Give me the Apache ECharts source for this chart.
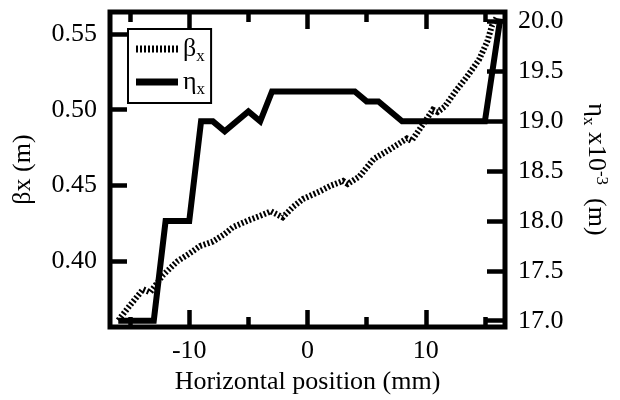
<!DOCTYPE html>
<html>
<head>
<meta charset="utf-8">
<script src="https://cdn.jsdelivr.net/npm/echarts@6/dist/echarts.min.js"></script>
<style>
  html, body { margin: 0; padding: 0; background: #fff; }
  #chart { width: 620px; height: 400px; }
</style>
</head>
<body>
<div id="chart"></div>
<script>
// Horizontal position (mm) and beta function (m) along the scan
const betaX = [-16.0, -15.0, -13.9, -13.3, -12.2, -11.0, -10.0, -9.1, -8.0, -7.0, -6.3, -5.0, -4.0, -3.1, -2.1, -1.2, -0.4, 1.0, 2.0, 3.0, 3.4, 4.4, 5.6, 7.0, 8.4, 8.8, 10.0, 10.6, 11.0, 11.6, 12.5, 13.5, 14.5, 15.2, 15.6, 16.0];
const betaY = [0.361, 0.371, 0.3815, 0.3795, 0.391, 0.400, 0.405, 0.410, 0.413, 0.418, 0.4225, 0.427, 0.430, 0.433, 0.429, 0.436, 0.441, 0.446, 0.450, 0.453, 0.451, 0.456, 0.4675, 0.474, 0.481, 0.4795, 0.493, 0.500, 0.4985, 0.502, 0.512, 0.522, 0.533, 0.545, 0.5555, 0.561];

// Horizontal position (mm) and dispersion (x10^-3 m)
const etaX = [-16.0, -13.0, -12.0, -10.0, -9.0, -8.0, -7.0, -5.0, -4.0, -3.0, 4.0, 5.0, 6.0, 8.0, 15.0, 16.3];
const etaY = [17.0, 17.0, 18.0, 18.0, 19.0, 19.0, 18.9, 19.1, 19.0, 19.3, 19.3, 19.2, 19.2, 19.0, 19.0, 20.03];

// Tick positions
const xMajorTicks = [-10, 0, 10];
const xMinorTicks = [-15, -5, 5, 15];
const betaTicks = [0.40, 0.45, 0.50, 0.55];
const etaTicks = [17.0, 17.5, 18.0, 18.5, 19.0, 19.5, 20.0];

const X_MIN = -16.7, X_MAX = 16.7;
const BETA_MIN = 0.3566, BETA_MAX = 0.5645;
const ETA_MIN = 16.937, ETA_MAX = 20.097;

const FONT = 'Liberation Serif';
const FS = 26;
const FS_SMALL = 17;

function zip(xs, ys) { return xs.map((x, i) => [x, ys[i]]); }

// Legend sample for the dotted series: a row of short bars
let dashPath = 'path://';
for (let i = 0; i < 11; i++) dashPath += 'M' + (i * 4) + ',0h2v7h-2z';

const chart = echarts.init(document.getElementById('chart'), null, { renderer: 'canvas' });

function xAxisDef(position, ticks, len, labels, name) {
  return {
    type: 'value', position: position, min: X_MIN, max: X_MAX,
    axisLine: { show: false, onZero: false },
    splitLine: { show: false },
    axisTick: { show: true, inside: true, length: len, customValues: ticks,
      lineStyle: { color: '#000', width: 4.5 } },
    axisLabel: labels ? { show: true, customValues: ticks, margin: 11, color: '#000',
      fontFamily: FONT, fontSize: FS } : { show: false },
    name: name || '', nameLocation: 'middle', nameGap: 42,
    nameTextStyle: { color: '#000', fontFamily: FONT, fontSize: FS }
  };
}

chart.setOption({
  animation: false,
  backgroundColor: '#fff',
  grid: { left: 110, right: 115, top: 12, bottom: 72, show: true,
    borderColor: '#000', borderWidth: 5, backgroundColor: 'transparent' },
  legend: {
    orient: 'vertical', left: 128, top: 29,
    borderColor: '#000', borderWidth: 2, padding: [7, 6, 5, 8],
    itemWidth: 42, itemHeight: 7, itemGap: 4,
    data: [
      { name: 'beta', icon: dashPath },
      { name: 'eta', icon: 'rect' }
    ],
    formatter: function (n) { return n === 'beta' ? '{a|β}{b|x}' : '{a|η}{b|x}'; },
    textStyle: {
      color: '#000', fontFamily: FONT, fontSize: FS,
      rich: {
        a: { fontFamily: FONT, fontSize: FS, color: '#000', verticalAlign: 'bottom' },
        b: { fontFamily: FONT, fontSize: FS_SMALL, color: '#000', verticalAlign: 'bottom', padding: [0, 0, -3, 0] }
      }
    }
  },
  xAxis: [
    xAxisDef('bottom', xMajorTicks, 17, true, 'Horizontal position (mm)'),
    xAxisDef('bottom', xMinorTicks, 10, false),
    xAxisDef('top', xMajorTicks, 17, false),
    xAxisDef('top', xMinorTicks, 10, false)
  ],
  yAxis: [
    {
      type: 'value', position: 'left', min: BETA_MIN, max: BETA_MAX,
      axisLine: { show: false, onZero: false }, splitLine: { show: false },
      axisTick: { show: true, inside: true, length: 17, customValues: betaTicks,
        lineStyle: { color: '#000', width: 4.5 } },
      axisLabel: { customValues: betaTicks, margin: 13, color: '#000', fontFamily: FONT, fontSize: FS,
        formatter: v => v.toFixed(2) },
      name: 'βx (m)', nameLocation: 'middle', nameGap: 74,
      nameTextStyle: { color: '#000', fontFamily: FONT, fontSize: FS }
    },
    {
      type: 'value', position: 'right', min: ETA_MIN, max: ETA_MAX,
      axisLine: { show: false, onZero: false }, splitLine: { show: false },
      axisTick: { show: true, inside: true, length: 18, customValues: etaTicks,
        lineStyle: { color: '#000', width: 4.5 } },
      axisLabel: { customValues: etaTicks, margin: 13, color: '#000', fontFamily: FONT, fontSize: FS,
        formatter: v => v.toFixed(1) },
      name: '{a|η}{b|x}{a| x10}{c|-3}{a|  (m)}', nameLocation: 'middle', nameGap: 78, nameRotate: -90,
      nameTextStyle: { color: '#000', fontFamily: FONT, fontSize: FS,
        rich: {
          a: { fontFamily: FONT, fontSize: FS, color: '#000', verticalAlign: 'bottom' },
          b: { fontFamily: FONT, fontSize: FS_SMALL, color: '#000', verticalAlign: 'bottom', padding: [0, 0, -3, 0] },
          c: { fontFamily: FONT, fontSize: FS_SMALL, color: '#000', verticalAlign: 'top', padding: [0, 0, 10, 0] }
        } }
    }
  ],
  series: [
    {
      name: 'beta', type: 'line', xAxisIndex: 0, yAxisIndex: 0,
      data: zip(betaX, betaY), showSymbol: false, symbol: 'none',
      lineStyle: { color: '#000', width: 6, type: [2, 2], cap: 'butt', join: 'miter' },
      itemStyle: { color: '#000' }, z: 2
    },
    {
      name: 'eta', type: 'line', xAxisIndex: 0, yAxisIndex: 1,
      data: zip(etaX, etaY), showSymbol: false, symbol: 'none',
      lineStyle: { color: '#000', width: 6, join: 'miter' },
      itemStyle: { color: '#000' }, z: 3
    }
  ]
});
</script>
</body>
</html>
